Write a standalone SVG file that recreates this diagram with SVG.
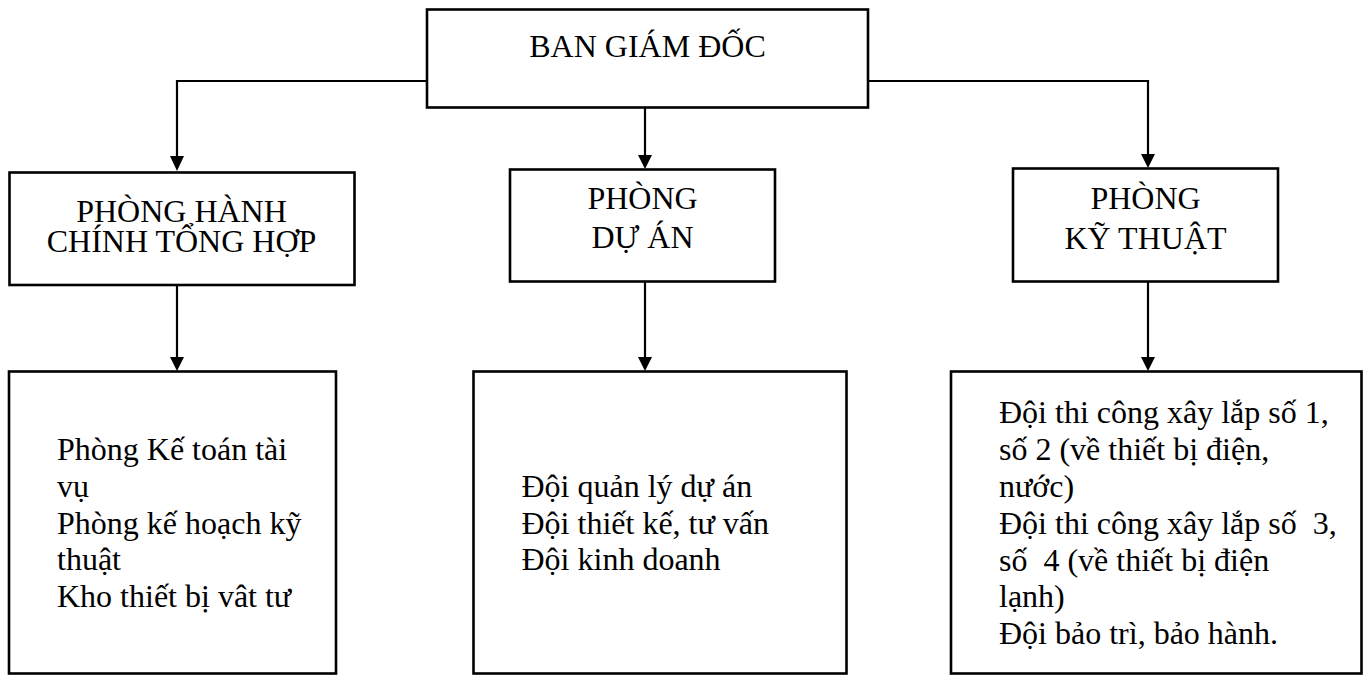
<svg xmlns="http://www.w3.org/2000/svg" width="1367" height="675" viewBox="0 0 1367 675">
<style>
.box{fill:#fff;stroke:#000;stroke-width:2.6}
.t{font-family:"Liberation Serif","Times New Roman",serif;font-size:32px;fill:#000;white-space:pre}
.c{text-anchor:middle}
.ln{fill:none;stroke:#000;stroke-width:2.2}
</style>
<defs>
<marker id="ah" markerUnits="userSpaceOnUse" markerWidth="16" markerHeight="16" viewBox="0 0 14 14" refX="7" refY="14" orient="auto-start-reverse">
<path d="M0,0 L14,0 L7,14 Z" fill="#000" transform="rotate(0)"/>
</marker>
</defs>
<rect width="1367" height="675" fill="#fff"/>
<g id="connectors">
<polyline class="ln" points="427,81 177,81 177,158"/>
<line class="ln" x1="645" y1="108" x2="645" y2="156"/>
<polyline class="ln" points="868,81 1148,81 1148,155"/>
<line class="ln" x1="177" y1="285" x2="177" y2="358"/>
<line class="ln" x1="645" y1="282" x2="645" y2="358"/>
<line class="ln" x1="1148" y1="282" x2="1148" y2="358"/>
<polygon points="170,156 184,156 177,171" fill="#000"/>
<polygon points="638,155 652,155 645,169" fill="#000"/>
<polygon points="1141,154 1155,154 1148,168" fill="#000"/>
<polygon points="170,357 184,357 177,371" fill="#000"/>
<polygon points="638,357 652,357 645,371" fill="#000"/>
<polygon points="1141,357 1155,357 1148,371" fill="#000"/>
</g>
<g id="ban-giam-doc">
<rect class="box" x="427" y="9.5" width="441" height="98"/>
<text class="t c" x="647.5" y="57">BAN GIÁM ĐỐC</text>
</g>
<g id="phong-hanh-chinh">
<rect class="box" x="9.5" y="172.5" width="345" height="112.5"/>
<text class="t c" x="181.5" y="221.5">PHÒNG HÀNH</text>
<text class="t c" x="181.5" y="251.5">CHÍNH TỔNG HỢP</text>
</g>
<g id="phong-du-an">
<rect class="box" x="510" y="169.5" width="265" height="112"/>
<text class="t c" x="642.5" y="209">PHÒNG</text>
<text class="t c" x="642.5" y="248">DỰ ÁN</text>
</g>
<g id="phong-ky-thuat">
<rect class="box" x="1013" y="168.5" width="265" height="113"/>
<text class="t c" x="1145.5" y="208.5">PHÒNG</text>
<text class="t c" x="1145.5" y="248.5">KỸ THUẬT</text>
</g>
<g id="hanh-chinh-units">
<rect class="box" x="9" y="371.5" width="327" height="302"/>
<text class="t" x="57" y="460">Phòng Kế toán tài</text>
<text class="t" x="57" y="496.8">vụ</text>
<text class="t" x="57" y="533.6">Phòng kế hoạch kỹ</text>
<text class="t" x="57" y="570.4">thuật</text>
<text class="t" x="57" y="607.2">Kho thiết bị vât tư</text>
</g>
<g id="du-an-units">
<rect class="box" x="473.5" y="371.5" width="373" height="302"/>
<text class="t" x="521.5" y="496.8">Đội quản lý dự án</text>
<text class="t" x="521.5" y="533.6">Đội thiết kế, tư vấn</text>
<text class="t" x="521.5" y="570.4">Đội kinh doanh</text>
</g>
<g id="ky-thuat-units">
<rect class="box" x="951" y="371.5" width="410.5" height="302"/>
<text class="t" x="999" y="423.3">Đội thi công xây lắp số 1,</text>
<text class="t" x="999" y="460.1">số 2 (về thiết bị điện,</text>
<text class="t" x="999" y="496.9">nước)</text>
<text class="t" x="999" y="533.7">Đội thi công xây lắp số  3,</text>
<text class="t" x="999" y="570.5">số  4 (về thiết bị điện</text>
<text class="t" x="999" y="607.3">lạnh)</text>
<text class="t" x="999" y="644.1">Đội bảo trì, bảo hành.</text>
</g>
</svg>
